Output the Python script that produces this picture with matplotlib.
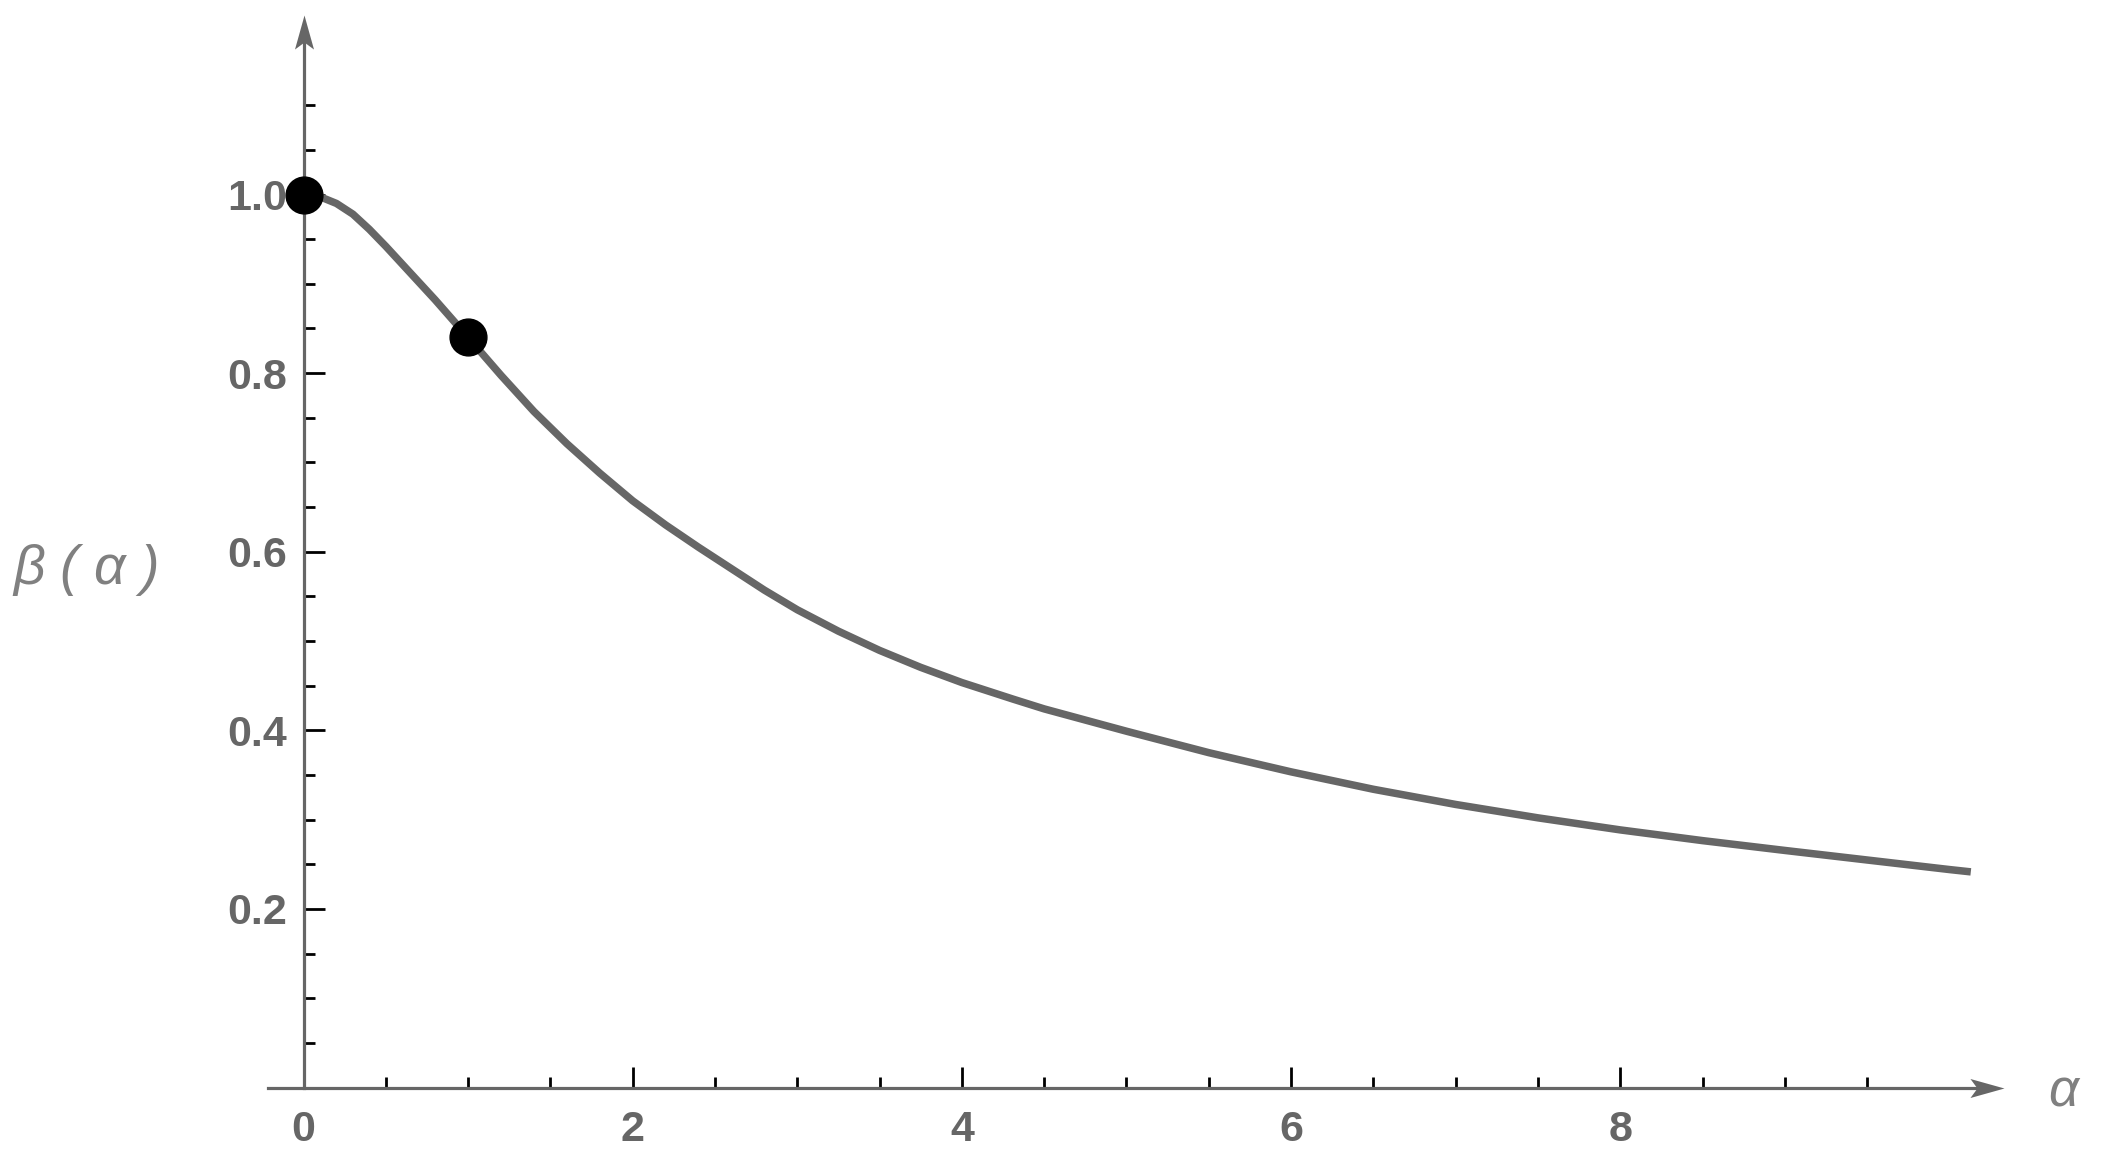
import numpy as np
import matplotlib
matplotlib.use("Agg")
import matplotlib.pyplot as plt
from matplotlib.path import Path

# ==========================================
# DATA
# ==========================================

alpha = [0.0, 0.1, 0.2, 0.3, 0.4, 0.5, 0.6, 0.8, 1.0, 1.2,
         1.4, 1.6, 1.8, 2.0, 2.2, 2.4, 2.6, 2.8, 3.0, 3.25,
         3.5, 3.75, 4.0, 4.31, 4.5, 5.0, 5.5, 6.0, 6.5, 7.0,
         7.5, 8.0, 8.5, 9.0, 9.5, 10.0, 10.13]
beta = [1.0, 0.9975, 0.990, 0.978, 0.961, 0.942, 0.922, 0.882, 0.840, 0.7975,
        0.757, 0.721, 0.688, 0.657, 0.630, 0.605, 0.581, 0.557, 0.535, 0.511,
        0.4895, 0.4705, 0.4535, 0.435, 0.424, 0.399, 0.375, 0.3535, 0.334, 0.317,
        0.302, 0.2885, 0.2765, 0.2655, 0.2548, 0.2441, 0.2415]

point_alpha = [0.0, 1.0]
point_beta = [1.0, 0.84]

x_major = [0, 2, 4, 6, 8]
x_labels = ["0", "2", "4", "6", "8"]
y_major = [0.0, 0.2, 0.4, 0.6, 0.8, 1.0]
y_labels = ["", "0.2", "0.4", "0.6", "0.8", "1.0"]

# ==========================================
# THEME
# ==========================================

AXIS = "#666666"
CURVE = "#666666"
LABEL = "#808080"
TICK_FONT = dict(family="Liberation Sans", weight="bold", size=31)

# ==========================================
# FIGURE
# ==========================================

fig = plt.figure(figsize=(21.02, 11.63), dpi=100, facecolor="white")
ax = fig.add_axes([0, 0, 1, 1])

ax.set_xlim(-1.844, 10.927)
ax.set_ylim(-0.0845, 1.2178)

ax.plot(alpha, beta, color=CURVE, lw=5.4, solid_capstyle="butt",
        solid_joinstyle="round", zorder=3)
ax.plot(point_alpha, point_beta, "o", color="black", ms=26.5, zorder=5)

# ==========================================
# AXES THROUGH THE ORIGIN
# ==========================================

for side in ["top", "right"]:
    ax.spines[side].set_visible(False)

ax.spines["left"].set_position(("data", 0))
ax.spines["bottom"].set_position(("data", 0))
ax.spines["left"].set_bounds(0, 1.18)
ax.spines["bottom"].set_bounds(-0.215, 10.2)
for side in ["left", "bottom"]:
    ax.spines[side].set_color(AXIS)
    ax.spines[side].set_linewidth(2.3)
    ax.spines[side].set_zorder(2)

# notched arrow heads
head = Path([(0, 0), (-34, 9.5), (-27, 0), (-34, -9.5), (0, 0)],
            [Path.MOVETO, Path.LINETO, Path.LINETO, Path.LINETO, Path.CLOSEPOLY])
head_up = Path([(0, 0), (-9.5, -34), (0, -27), (9.5, -34), (0, 0)],
               [Path.MOVETO, Path.LINETO, Path.LINETO, Path.LINETO, Path.CLOSEPOLY])
ax.plot([10.331], [0], marker=head, ms=49, color=AXIS, mew=0, clip_on=False)
ax.plot([0], [1.201], marker=head_up, ms=49, color=AXIS, mew=0, clip_on=False)

# ==========================================
# TICKS
# ==========================================

ax.set_xticks(x_major, labels=x_labels)
ax.set_yticks(y_major, labels=y_labels)
ax.set_xticks([v for v in np.arange(0.5, 9.6, 0.5) if v not in x_major], minor=True)
ax.set_yticks([round(v, 2) for v in np.arange(0.05, 1.11, 0.05)
               if round(v, 2) not in y_major], minor=True)

ax.tick_params(which="both", direction="in", color="black", width=2)
ax.tick_params(which="major", length=15)
ax.tick_params(which="minor", length=8)
ax.tick_params(axis="x", which="major", pad=16, labelcolor=AXIS)
ax.tick_params(axis="y", which="major", pad=12, labelcolor=AXIS)
ax.xaxis.get_major_ticks()[0].tick1line.set_visible(False)

for lab in ax.get_xticklabels() + ax.get_yticklabels():
    lab.set_fontfamily(TICK_FONT["family"])
    lab.set_fontweight(TICK_FONT["weight"])
    lab.set_fontsize(TICK_FONT["size"])

# ==========================================
# AXIS LABELS
# ==========================================

ax.text(-1.32, 0.58, "β ( α )", fontsize=40, style="italic",
        family="Liberation Sans", color=LABEL, ha="center", va="center")
ax.text(10.69, -0.006, "α", fontsize=38, style="italic",
        family="Liberation Sans", color=LABEL, ha="center", va="center")

# ==========================================
# SAVE
# ==========================================

fig.savefig("out.png", dpi=100, facecolor="white")
plt.close(fig)
